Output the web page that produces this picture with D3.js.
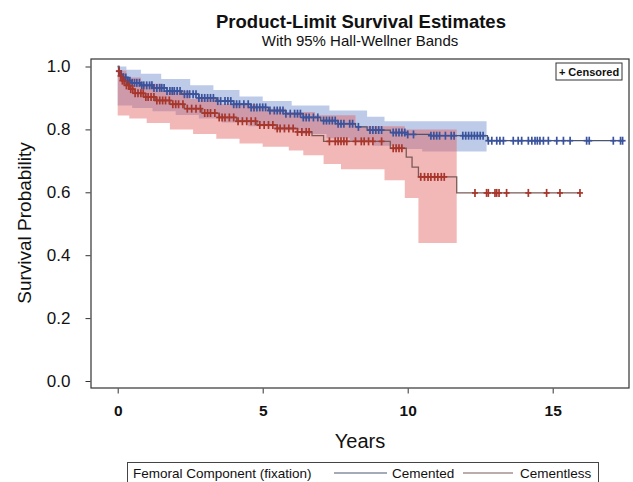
<!DOCTYPE html>
<html>
<head>
<meta charset="utf-8">
<script src="https://cdn.jsdelivr.net/npm/d3@7"></script>
<style>
  html, body { margin: 0; padding: 0; background: #fff; }
  svg { display: block; font-family: "Liberation Sans", Arial, sans-serif; }
</style>
</head>
<body>
<svg id="chart" width="633" height="482"></svg>
<script>
// ---------- data ----------
const title = "Product-Limit Survival Estimates";
const subtitle = "With 95% Hall-Wellner Bands";
const yTicks = [0, 0.2, 0.4, 0.6, 0.8, 1.0];
const xTicks = [0, 5, 10, 15];
const groups = ["Cemented", "Cementless"];

// Cemented: KM step curve
const cemTimes = [0, 0.05, 0.1, 0.2, 0.35, 0.5, 0.8, 1.2, 1.7, 2.2, 2.8, 3.4, 4.0, 4.6, 5.2, 5.8, 6.4, 7.0, 7.6, 8.2, 8.6, 9.4, 10.0, 10.8, 12.75];
const cemSurv  = [1.0, 0.985, 0.975, 0.965, 0.955, 0.948, 0.94, 0.932, 0.922, 0.912, 0.90, 0.89, 0.88, 0.87, 0.86, 0.85, 0.838, 0.828, 0.818, 0.808, 0.798, 0.79, 0.784, 0.78, 0.764];
const cemEnd = 17.41;
// Cemented: Hall-Wellner band
const cemBandTimes = [0, 0.3, 0.5, 0.8, 1.2, 1.5, 2.0, 2.5, 2.8, 3.3, 3.6, 4.2, 4.5, 5.0, 5.4, 6.0, 6.3, 7.2, 7.3, 8.0, 8.6, 8.8, 9.2, 9.6, 10.5];
const cemUpper = [1.0, 0.99, 0.99, 0.977, 0.977, 0.96, 0.96, 0.94, 0.94, 0.925, 0.925, 0.905, 0.905, 0.89, 0.89, 0.876, 0.876, 0.876, 0.86, 0.86, 0.84, 0.84, 0.826, 0.826, 0.826];
const cemLower = [0.876, 0.876, 0.868, 0.868, 0.858, 0.858, 0.846, 0.846, 0.835, 0.835, 0.822, 0.822, 0.81, 0.81, 0.797, 0.797, 0.785, 0.772, 0.772, 0.76, 0.76, 0.748, 0.748, 0.738, 0.73];
const cemBandEnd = 12.72;

// Cementless: KM step curve
const unTimes = [0, 0.03, 0.08, 0.15, 0.25, 0.4, 0.6, 0.9, 1.3, 1.8, 2.3, 2.9, 3.5, 4.1, 4.8, 5.5, 6.2, 6.7, 7.1, 9.4, 9.95, 10.15, 10.37, 11.69];
const unSurv  = [1.0, 0.985, 0.97, 0.955, 0.94, 0.928, 0.915, 0.903, 0.892, 0.88, 0.866, 0.852, 0.838, 0.826, 0.814, 0.803, 0.792, 0.78, 0.762, 0.74, 0.712, 0.68, 0.649, 0.598];
const unEnd = 15.94;
// Cementless: Hall-Wellner band
const unBandTimes = [0, 0.3, 0.4, 0.8, 1.0, 1.5, 1.8, 2.5, 2.6, 3.4, 3.5, 4.2, 4.8, 5.0, 5.8, 5.9, 6.4, 6.8, 7.1, 7.7, 8.2, 9.2, 9.9, 10.37];
const unUpper = [0.987, 0.965, 0.965, 0.945, 0.945, 0.922, 0.922, 0.897, 0.897, 0.897, 0.88, 0.88, 0.866, 0.866, 0.855, 0.855, 0.855, 0.845, 0.845, 0.845, 0.81, 0.81, 0.80, 0.80];
const unLower = [0.844, 0.844, 0.835, 0.835, 0.82, 0.82, 0.80, 0.80, 0.785, 0.77, 0.77, 0.755, 0.755, 0.745, 0.745, 0.733, 0.718, 0.718, 0.69, 0.673, 0.673, 0.638, 0.582, 0.439];
const unBandEnd = 11.69;

// censored observations
const cemCensored = [0.05,0.12,0.2,0.28,0.35,0.42,0.5,0.58,0.66,0.75,0.83,0.9,1.0,1.1,1.18,1.25,1.35,1.45,1.52,1.6,1.7,1.8,1.88,1.95,2.05,2.15,2.3,2.4,2.48,2.6,2.7,2.8,2.9,3.0,3.1,3.2,3.3,3.45,3.55,3.7,3.8,3.9,4.0,4.1,4.2,4.35,4.5,4.6,4.7,4.8,4.9,5.0,5.1,5.25,5.4,5.5,5.6,5.7,5.8,5.95,6.1,6.2,6.3,6.4,6.5,6.6,6.75,6.9,7.1,7.2,7.3,7.4,7.5,7.6,7.7,7.8,8.0,8.1,8.3,8.7,8.8,8.9,9.0,9.1,9.5,9.6,9.7,9.8,9.9,10.0,10.2,10.8,10.9,11.0,11.1,11.3,11.5,11.6,11.9,12.0,12.1,12.2,12.3,12.4,12.5,12.6,12.78,12.9,13.07,13.18,13.3,13.64,13.81,13.93,14.16,14.28,14.39,14.47,14.56,14.68,14.85,15.14,15.37,15.6,16.17,16.26,17.09,17.34,17.41];
const unCensored = [0.04,0.1,0.16,0.22,0.3,0.38,0.45,0.52,0.6,0.7,0.8,0.88,0.97,1.05,1.15,1.25,1.35,1.45,1.55,1.65,1.78,1.9,2.0,2.1,2.25,2.4,2.55,2.7,2.85,3.0,3.1,3.2,3.35,3.5,3.6,3.7,3.85,4.0,4.15,4.3,4.45,4.6,4.75,4.9,5.05,5.2,5.35,5.5,5.6,5.75,5.9,6.05,6.2,6.35,6.5,6.6,7.3,7.5,7.6,7.7,7.8,7.9,8.2,8.4,8.5,8.65,8.8,9.1,9.5,9.6,9.7,9.8,10.45,10.58,10.7,10.8,10.93,11.04,11.16,11.26,12.32,12.72,12.78,13.01,13.07,13.15,13.41,14.16,14.79,15.25,15.94];

// ---------- layout ----------
const svg = d3.select("#chart");
const frame = { left: 91, right: 629, top: 59, bottom: 388 };
const x = d3.scaleLinear().domain([0, 15]).range([117.7, 552.7]);
const y = d3.scaleLinear().domain([0, 1]).range([381, 66.5]);

const colors = {
  cemMark: "#3a539c", cemLine: "#4a5670", cemBand: "rgba(108,138,205,0.45)",
  unMark: "#a8362b",  unLine: "#7a5a58",  unBand: "rgba(226,96,96,0.45)"
};

function stepPoints(times, vals, end) {
  const pts = times.map((t, i) => [t, vals[i]]);
  pts.push([end, vals[vals.length - 1]]);
  return pts;
}
function bandPoints(times, lo, hi, end) {
  const pts = times.map((t, i) => [t, lo[i], hi[i]]);
  pts.push([end, lo[lo.length - 1], hi[hi.length - 1]]);
  return pts;
}
function survAt(times, vals, t) {
  const i = d3.bisectRight(times, t) - 1;
  return vals[Math.max(0, i)];
}

const area = d3.area().curve(d3.curveStepAfter)
  .x(d => x(d[0])).y0(d => y(d[1])).y1(d => y(d[2]));
const line = d3.line().curve(d3.curveStepAfter)
  .x(d => x(d[0])).y(d => y(d[1]));

// bands
svg.append("path").datum(bandPoints(cemBandTimes, cemLower, cemUpper, cemBandEnd))
  .attr("d", area).attr("fill", colors.cemBand);
svg.append("path").datum(bandPoints(unBandTimes, unLower, unUpper, unBandEnd))
  .attr("d", area).attr("fill", colors.unBand);

// frame
svg.append("rect").attr("x", frame.left).attr("y", frame.top)
  .attr("width", frame.right - frame.left).attr("height", frame.bottom - frame.top)
  .attr("fill", "none").attr("stroke", "#333").attr("stroke-width", 1.2);

// curves
svg.append("path").datum(stepPoints(cemTimes, cemSurv, cemEnd))
  .attr("d", line).attr("fill", "none").attr("stroke", colors.cemLine).attr("stroke-width", 1.3);
svg.append("path").datum(stepPoints(unTimes, unSurv, unEnd))
  .attr("d", line).attr("fill", "none").attr("stroke", colors.unLine).attr("stroke-width", 1.3);

// censored marks (+)
function marks(times, survT, survV, color) {
  const g = svg.append("g").attr("stroke", color).attr("stroke-width", 1.7);
  times.forEach(t => {
    const cx = x(t), cy = y(survAt(survT, survV, t));
    g.append("line").attr("x1", cx).attr("x2", cx).attr("y1", cy - 4).attr("y2", cy + 4);
    g.append("line").attr("x1", cx - 3).attr("x2", cx + 3).attr("y1", cy).attr("y2", cy);
  });
}
marks(cemCensored, cemTimes, cemSurv, colors.cemMark);
marks(unCensored, unTimes, unSurv, colors.unMark);

// axes
const yAxis = d3.axisLeft(y).tickValues(yTicks).tickFormat(d3.format(".1f")).tickSize(5).tickPadding(15);
const gy = svg.append("g").attr("transform", `translate(${frame.left - 0.5},0)`).call(yAxis);
gy.select(".domain").remove();
gy.selectAll("line").attr("stroke", "#333");
gy.selectAll("text").attr("font-size", 17).attr("fill", "#111")
  .attr("font-family", "Liberation Sans, Arial, sans-serif");

const xAxis = d3.axisBottom(x).tickValues(xTicks).tickFormat(d3.format("d")).tickSize(5).tickPadding(11);
const gx = svg.append("g").attr("transform", `translate(0,${frame.bottom + 0.5})`).call(xAxis);
gx.select(".domain").remove();
gx.selectAll("line").attr("stroke", "#333");
gx.selectAll("text").attr("font-size", 15.5).attr("font-weight", "bold").attr("fill", "#111")
  .attr("font-family", "Liberation Sans, Arial, sans-serif");

// titles
svg.append("text").attr("x", 361).attr("y", 28).attr("text-anchor", "middle")
  .attr("font-size", 18.5).attr("font-weight", "bold").attr("fill", "#111").text(title);
svg.append("text").attr("x", 360).attr("y", 46).attr("text-anchor", "middle")
  .attr("font-size", 15).attr("fill", "#111").text(subtitle);

svg.append("text").attr("x", 360).attr("y", 448).attr("text-anchor", "middle")
  .attr("font-size", 20).attr("fill", "#111").text("Years");
svg.append("text").attr("transform", "translate(31,223) rotate(-90)").attr("text-anchor", "middle")
  .attr("font-size", 19).attr("fill", "#111").text("Survival Probability");

// censored legend (inset)
svg.append("rect").attr("x", 556).attr("y", 63).attr("width", 66).attr("height", 17)
  .attr("fill", "#fff").attr("stroke", "#333").attr("stroke-width", 1);
svg.append("text").attr("x", 589).attr("y", 76).attr("text-anchor", "middle")
  .attr("font-size", 11).attr("font-weight", "bold").attr("fill", "#111").text("+ Censored");

// bottom legend
svg.append("rect").attr("x", 127.5).attr("y", 462.5).attr("width", 471).attr("height", 24)
  .attr("fill", "#fff").attr("stroke", "#444").attr("stroke-width", 1);
svg.append("text").attr("x", 133).attr("y", 477.5).attr("font-size", 13.5).attr("fill", "#111")
  .text("Femoral Component (fixation)");
const legItems = [
  { name: groups[0], x1: 334, x2: 387, tx: 392, color: colors.cemLine },
  { name: groups[1], x1: 463, x2: 513, tx: 520, color: colors.unLine }
];
legItems.forEach(it => {
  svg.append("line").attr("x1", it.x1).attr("x2", it.x2).attr("y1", 473).attr("y2", 473)
    .attr("stroke", it.color).attr("stroke-width", 1.1);
  svg.append("text").attr("x", it.tx).attr("y", 477.5).attr("font-size", 13.5).attr("fill", "#111").text(it.name);
});
</script>
</body>
</html>
